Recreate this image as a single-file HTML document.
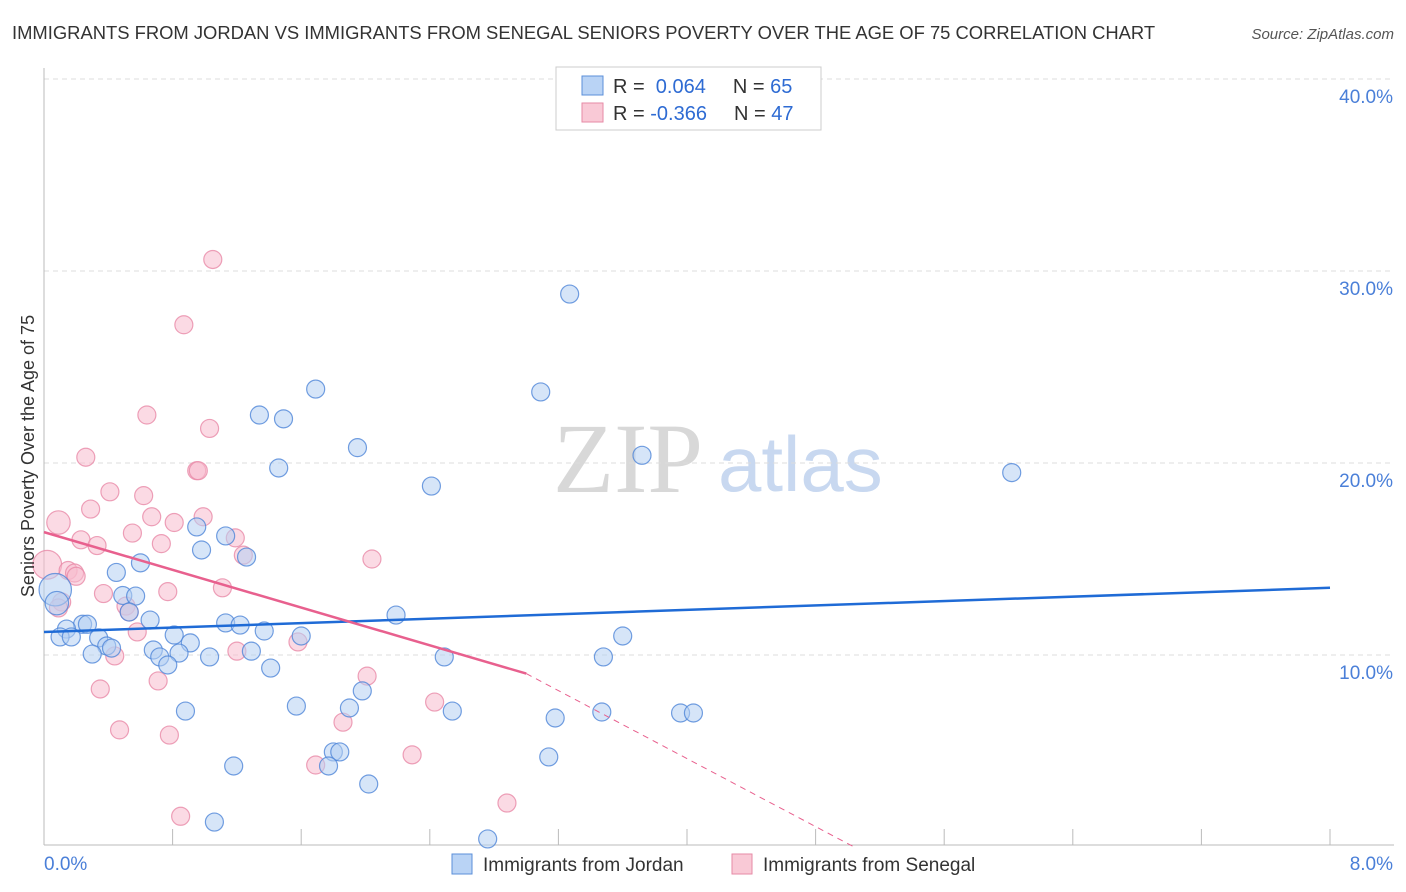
<!DOCTYPE html>
<html><head><meta charset="utf-8"><style>
body{margin:0;background:#fff;font-family:"Liberation Sans",sans-serif;}
svg{display:block}
</style></head><body>
<svg id="chart" width="1406" height="892" xmlns="http://www.w3.org/2000/svg">
<text x="12" y="39" font-size="18.4" fill="#333">IMMIGRANTS FROM JORDAN VS IMMIGRANTS FROM SENEGAL SENIORS POVERTY OVER THE AGE OF 75 CORRELATION CHART</text>
<text x="1394" y="39" font-size="15" fill="#555" font-style="italic" text-anchor="end">Source: ZipAtlas.com</text>
<g>
<text x="553" y="492" font-family="Liberation Serif,serif" font-size="100" fill="#d8d8d8">ZIP</text>
<text x="718" y="491" font-size="78" fill="#c8d8f0">atlas</text>
</g>
<g id="grid"></g>
<g id="axes"></g>
<g id="pts"></g>
<g id="trends"></g>
<g>
<rect x="556" y="67" width="265" height="63" fill="#fff" stroke="#ccc"/>
<rect x="582" y="76" width="21" height="19" fill="#b9d3f5" stroke="#5b8fd9"/>
<text x="613" y="93" font-size="20" fill="#333">R = <tspan fill="#2e6bd3">&#160;0.064</tspan><tspan fill="#333" dx="27">N = </tspan><tspan fill="#2e6bd3">65</tspan></text>
<rect x="582" y="103" width="21" height="19" fill="#f9c9d6" stroke="#e68aa6"/>
<text x="613" y="120" font-size="20" fill="#333">R = <tspan fill="#2e6bd3">-0.366</tspan><tspan fill="#333" dx="27">N = </tspan><tspan fill="#2e6bd3">47</tspan></text>
</g>
<g>
<rect x="452" y="854" width="20" height="20" fill="#b9d3f5" stroke="#5b8fd9"/>
<text x="483" y="871" font-size="19" fill="#333">Immigrants from Jordan</text>
<rect x="732" y="854" width="20" height="20" fill="#f9c9d6" stroke="#e68aa6"/>
<text x="763" y="871" font-size="19" fill="#333">Immigrants from Senegal</text>
</g>
<text x="34" y="456" font-size="18" fill="#333" transform="rotate(-90 34 456)" text-anchor="middle">Seniors Poverty Over the Age of 75</text>
</svg>
<script>
const yTicks=[10,20,30,40];
const yTickLabels=["10.0%","20.0%","30.0%","40.0%"];
const xTicks=[0,0.8,1.6,2.4,3.2,4.0,4.8,5.6,6.4,7.2,8.0];
const xTickLabels=["0.0%","8.0%"];
const jordanX=[3.27,3.09,1.69,1.34,1.49,1.95,3.72,6.02,1.46,2.41,0.95,1.13,0.98,1.26,0.60,0.45,0.07,0.49,0.57,0.08,0.53,2.19,0.66,0.24,0.27,0.14,1.13,1.22,1.37,0.81,1.60,3.60,0.34,0.10,0.17,0.91,0.39,0.42,0.30,0.68,0.84,0.72,1.03,1.29,2.49,3.48,0.77,1.41,1.98,1.57,0.88,1.90,2.54,3.47,3.96,4.04,3.18,1.80,1.84,1.77,3.14,1.18,2.02,1.06,2.76];
const jordanY=[28.8,23.7,23.85,22.5,22.3,20.8,20.4,19.5,19.74,18.8,16.67,16.2,15.47,15.1,14.8,14.3,13.4,13.1,13.07,12.7,12.24,12.08,11.82,11.6,11.6,11.35,11.67,11.56,11.25,11.04,10.99,10.99,10.89,10.94,10.94,10.63,10.47,10.36,10.05,10.26,10.1,9.9,9.9,10.2,9.9,9.9,9.48,9.32,8.13,7.34,7.08,7.24,7.08,7.03,6.98,6.98,6.72,4.95,4.95,4.22,4.69,4.22,3.28,1.30,0.42];
const jordanSize=[1,1,1,1,1,1,1,1,1,1,1,1,1,1,1,1,1.8,1,1,1.3,1,1,1,1,1,1,1,1,1,1,1,1,1,1,1,1,1,1,1,1,1,1,1,1,1,1,1,1,1,1,1,1,1,1,1,1,1,1,1,1,1,1,1,1,1];
const senegalX=[1.05,0.87,0.64,1.03,0.26,0.95,0.96,0.41,0.62,0.29,0.67,0.81,0.99,0.09,0.55,1.19,0.73,0.23,0.33,1.24,2.04,0.02,0.15,0.19,0.20,1.11,0.37,0.77,0.51,0.11,0.09,0.53,0.58,1.58,1.20,0.44,0.71,2.01,0.35,2.43,1.86,0.47,0.78,2.29,1.69,2.88,0.85];
const senegalY=[30.6,27.2,22.5,21.8,20.3,19.6,19.6,18.5,18.3,17.6,17.2,16.9,17.2,16.9,16.35,16.1,15.8,16.0,15.7,15.2,15.0,14.7,14.4,14.27,14.1,13.5,13.2,13.3,12.55,12.76,12.45,12.24,11.2,10.68,10.2,9.95,8.65,8.9,8.23,7.55,6.5,6.1,5.83,4.8,4.27,2.29,1.6];
const senegalSize=[1,1,1,1,1,1,1,1,1,1,1,1,1,1.3,1,1,1,1,1,1,1,1.6,1,1,1,1,1,1,1,1,1,1,1,1,1,1,1,1,1,1,1,1,1,1,1,1,1];
const jordanTrend=[11.2,13.5];
const senegalTrend=[16.4,-3.25];
const senegalSolidEnd=3.0;
const senegalZeroX=5.04;

const X0=44,X1=1330,Y0=847,Y40=79;
const sx=v=>X0+(v/8)*(X1-X0);
const sy=v=>Y0-(v/40)*(Y0-Y40);
const NS="http://www.w3.org/2000/svg";
function mk(tag,attrs,parent){const e=document.createElementNS(NS,tag);for(const k in attrs)e.setAttribute(k,attrs[k]);parent.appendChild(e);return e;}
const grid=document.getElementById('grid'),axes=document.getElementById('axes'),pts=document.getElementById('pts'),tr=document.getElementById('trends');
yTicks.forEach((t,i)=>{
 const l=mk('line',{x1:X0,x2:1394,y1:sy(t),y2:sy(t),stroke:'#ddd','stroke-dasharray':'5,4'},grid);
 
 
 const tx=mk('text',{x:1393,y:sy(t)+24,'font-size':19,fill:'#4a7fd8','text-anchor':'end'},axes);
 tx.textContent=yTickLabels[i];
 
 
});
const ax=mk('line',{x1:X0,x2:X0,y1:68,y2:845,stroke:'#bbb'},axes);


const bx=mk('line',{x1:X0,x2:1394,y1:845,y2:845,stroke:'#bbb'},axes);


xTicks.forEach(t=>{
 const l=mk('line',{x1:sx(t),x2:sx(t),y1:829,y2:845,stroke:'#bbb'},axes);
 
 
});
const xl0=mk('text',{x:44,y:870,'font-size':19,fill:'#4a7fd8'},axes);xl0.textContent=xTickLabels[0];


const xl1=mk('text',{x:1393,y:870,'font-size':19,fill:'#4a7fd8','text-anchor':'end'},axes);xl1.textContent=xTickLabels[1];


function dots(xs,ys,sz,fill,stroke,name){
 xs.forEach((x,i)=>{
  const c=mk('circle',{cx:sx(x),cy:sy(ys[i]),r:9*sz[i],fill:fill,'fill-opacity':0.55,stroke:stroke,'stroke-width':1.2,'stroke-opacity':0.8},pts);
  
  
 });
}
dots(senegalX,senegalY,senegalSize,'#f7bccd','#e88aa7','senegal-point');
dots(jordanX,jordanY,jordanSize,'#b5d0f3','#4f86d8','jordan-point');
const jl=mk('line',{x1:sx(0),y1:sy(jordanTrend[0]),x2:sx(8),y2:sy(jordanTrend[1]),stroke:'#1f6bd6','stroke-width':2.5},tr);


const slope=(senegalTrend[1]-senegalTrend[0])/8;
const py=x=>senegalTrend[0]+slope*x;
const sl=mk('line',{x1:sx(0),y1:sy(py(0)),x2:sx(senegalSolidEnd),y2:sy(py(senegalSolidEnd)),stroke:'#e8608e','stroke-width':2.5},tr);


const sd=mk('line',{x1:sx(senegalSolidEnd),y1:sy(py(senegalSolidEnd)),x2:sx(senegalZeroX),y2:sy(0),stroke:'#e8608e','stroke-width':1,'stroke-dasharray':'6,5'},tr);


</script>
</body></html>
